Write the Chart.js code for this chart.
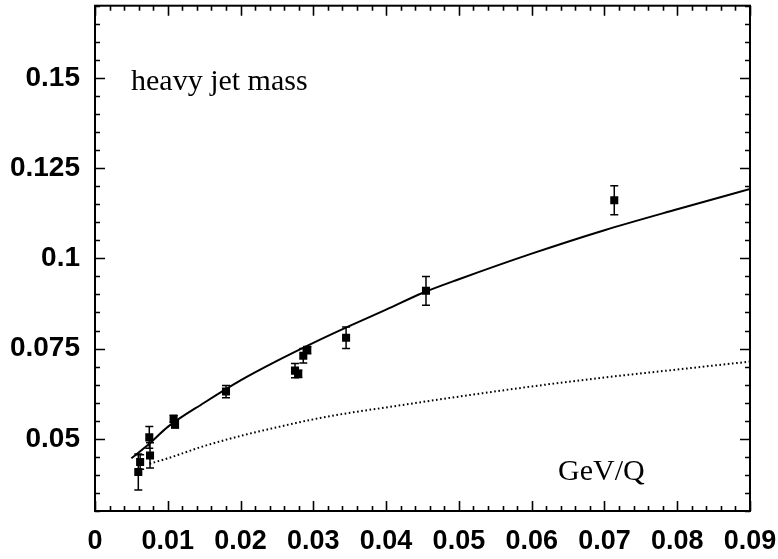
<!DOCTYPE html>
<html><head><meta charset="utf-8">
<script src="https://cdn.jsdelivr.net/npm/chart.js@4.4.0/dist/chart.umd.min.js"></script>
<style>html,body{margin:0;padding:0;background:#fff;overflow:hidden}#wrap{width:778px;height:559px;position:relative}</style>
</head><body><div id="wrap"><canvas id="c" width="778" height="559"></canvas></div>
<script>
// measured data points (x = GeV/Q, y = heavy jet mass mean)
const dataX = [0.00595, 0.0062, 0.00746, 0.00756, 0.0108, 0.0110, 0.0180, 0.02748, 0.02793, 0.02862, 0.02917, 0.0345, 0.04548, 0.07135];
const dataY = [0.0408, 0.0436, 0.0504, 0.0454, 0.0555, 0.0540, 0.0631, 0.0689, 0.0680, 0.0730, 0.0746, 0.0780, 0.0910, 0.1161];
const dataErr = [0.005, 0.002, 0.003, 0.0035, 0.001, 0.001, 0.0017, 0.002, 0.001, 0.002, 0.001, 0.003, 0.004, 0.004];

// solid fit curve
const fitX = [0.005, 0.0075, 0.01, 0.015, 0.02, 0.025, 0.03, 0.035, 0.04, 0.045, 0.05, 0.06, 0.07, 0.08, 0.09];
const fitY = [0.0446, 0.0487, 0.0533, 0.0600, 0.0662, 0.0716, 0.0766, 0.0813, 0.0858, 0.0904, 0.0942, 0.1013, 0.1078, 0.1136, 0.1192];

// dotted curve
const dotX = [0.0075, 0.01, 0.015, 0.02, 0.025, 0.03, 0.035, 0.04, 0.05, 0.06, 0.07, 0.08, 0.09];
const dotY = [0.0431, 0.0446, 0.0480, 0.0508, 0.0532, 0.0554, 0.0572, 0.0587, 0.0617, 0.0645, 0.0670, 0.0692, 0.0714];

const xTickValues = [0, 0.01, 0.02, 0.03, 0.04, 0.05, 0.06, 0.07, 0.08, 0.09];
const xTickLabels = ["0", "0.01", "0.02", "0.03", "0.04", "0.05", "0.06", "0.07", "0.08", "0.09"];
const yTickValues = [0.05, 0.075, 0.1, 0.125, 0.15];
const yTickLabels = ["0.05", "0.075", "0.1", "0.125", "0.15"];
const xRange = [0, 0.09];
const yRange = [0.03, 0.17];
const titleText = "heavy jet mass";
const axisText = "GeV/Q";

Chart.defaults.font.family = "'Liberation Sans', Arial, sans-serif";
Chart.defaults.color = '#000';

const toXY = (xs, ys) => xs.map((x, i) => ({x: x, y: ys[i]}));
const zeroPad = s => { s.paddingLeft = 0; s.paddingRight = 0; s.paddingTop = 0; s.paddingBottom = 0; };

const framePlugin = {
  id: 'frame',
  beforeDatasetsDraw(chart) {
    const ctx = chart.ctx, xs = chart.scales.x, ys = chart.scales.y;
    ctx.save();
    ctx.strokeStyle = '#000';
    ctx.lineWidth = 1.5;
    dataX.forEach((xv, i) => {
      const px = xs.getPixelForValue(xv);
      const t = ys.getPixelForValue(dataY[i] + dataErr[i]);
      const b = ys.getPixelForValue(dataY[i] - dataErr[i]);
      ctx.beginPath();
      ctx.moveTo(px, t); ctx.lineTo(px, b);
      ctx.moveTo(px - 4, t); ctx.lineTo(px + 4, t);
      ctx.moveTo(px - 4, b); ctx.lineTo(px + 4, b);
      ctx.stroke();
    });
    ctx.restore();
  },
  afterDraw(chart) {
    const ctx = chart.ctx, a = chart.chartArea, xs = chart.scales.x, ys = chart.scales.y;
    ctx.save();
    ctx.strokeStyle = '#000';
    ctx.lineWidth = 1.6;
    ctx.beginPath();
    for (let i = 0; i < xTickValues.length; i++) {
      const v = xTickValues[i];
      const px = Math.round(xs.getPixelForValue(v)) + 0.5;
      ctx.moveTo(px, a.bottom); ctx.lineTo(px, a.bottom - 10);
      ctx.moveTo(px, a.top); ctx.lineTo(px, a.top + 10);
      if (i < xTickValues.length - 1) {
        const step = (xTickValues[i + 1] - v) / 5;
        for (let k = 1; k < 5; k++) {
          const mx = Math.round(xs.getPixelForValue(v + k * step)) + 0.5;
          ctx.moveTo(mx, a.bottom); ctx.lineTo(mx, a.bottom - 5);
          ctx.moveTo(mx, a.top); ctx.lineTo(mx, a.top + 5);
        }
      }
    }
    const yStep = (yTickValues[1] - yTickValues[0]) / 5;
    for (let v = yRange[0]; v <= yRange[1] + 1e-9; v += yStep) {
      const py = Math.round(ys.getPixelForValue(v)) + 0.5;
      const isMajor = yTickValues.some(t => Math.abs(t - v) < 1e-6);
      const len = isMajor ? 10 : 5;
      ctx.moveTo(a.left, py); ctx.lineTo(a.left + len, py);
      ctx.moveTo(a.right, py); ctx.lineTo(a.right - len, py);
    }
    ctx.stroke();
    ctx.lineWidth = 2;
    ctx.strokeRect(a.left, a.top, a.right - a.left, a.bottom - a.top);
    ctx.fillStyle = '#000';
    ctx.font = "30px 'Liberation Serif', 'Times New Roman', serif";
    ctx.textBaseline = 'alphabetic';
    ctx.textAlign = 'left';
    ctx.fillText(titleText, a.left + 36, a.top + 84);
    ctx.fillText(axisText, a.left + 463, a.top + 474);
    ctx.restore();
  }
};

new Chart(document.getElementById('c'), {
  type: 'scatter',
  data: {
    datasets: [
      {
        data: toXY(fitX, fitY), showLine: true, borderColor: '#000', borderWidth: 2,
        pointRadius: 0, cubicInterpolationMode: 'monotone', fill: false
      },
      {
        data: toXY(dotX, dotY), showLine: true, borderColor: '#000', borderWidth: 2,
        borderDash: [1.6, 2.6], pointRadius: 0, cubicInterpolationMode: 'monotone', fill: false
      },
      {
        data: toXY(dataX, dataY), showLine: false, pointStyle: 'rect', pointRadius: 5.7,
        backgroundColor: '#000', borderColor: '#000', borderWidth: 0
      }
    ]
  },
  options: {
    responsive: false, animation: false, devicePixelRatio: 1,
    layout: {padding: {left: 0, right: 28, top: 3, bottom: 0}},
    plugins: {legend: {display: false}, tooltip: {enabled: false}},
    scales: {
      x: {
        type: 'linear', min: xRange[0], max: xRange[1],
        grid: {display: false, drawTicks: false}, border: {display: false},
        afterBuildTicks: s => { s.ticks = xTickValues.map(v => ({value: v})); },
        afterFit: s => { s.height = 48; zeroPad(s); },
        ticks: {
          autoSkip: false, maxRotation: 0, padding: 14, color: '#000',
          font: {size: 27, weight: 'bold'},
          callback: (v, i) => xTickLabels[i]
        }
      },
      y: {
        type: 'linear', min: yRange[0], max: yRange[1],
        grid: {display: false, drawTicks: false}, border: {display: false},
        afterBuildTicks: s => { s.ticks = yTickValues.map(v => ({value: v})); },
        afterFit: s => { s.width = 95; zeroPad(s); },
        ticks: {
          autoSkip: false, padding: 15, color: '#000',
          font: {size: 28, weight: 'bold'},
          callback: (v, i) => yTickLabels[i]
        }
      }
    }
  },
  plugins: [framePlugin]
});
</script></body></html>
